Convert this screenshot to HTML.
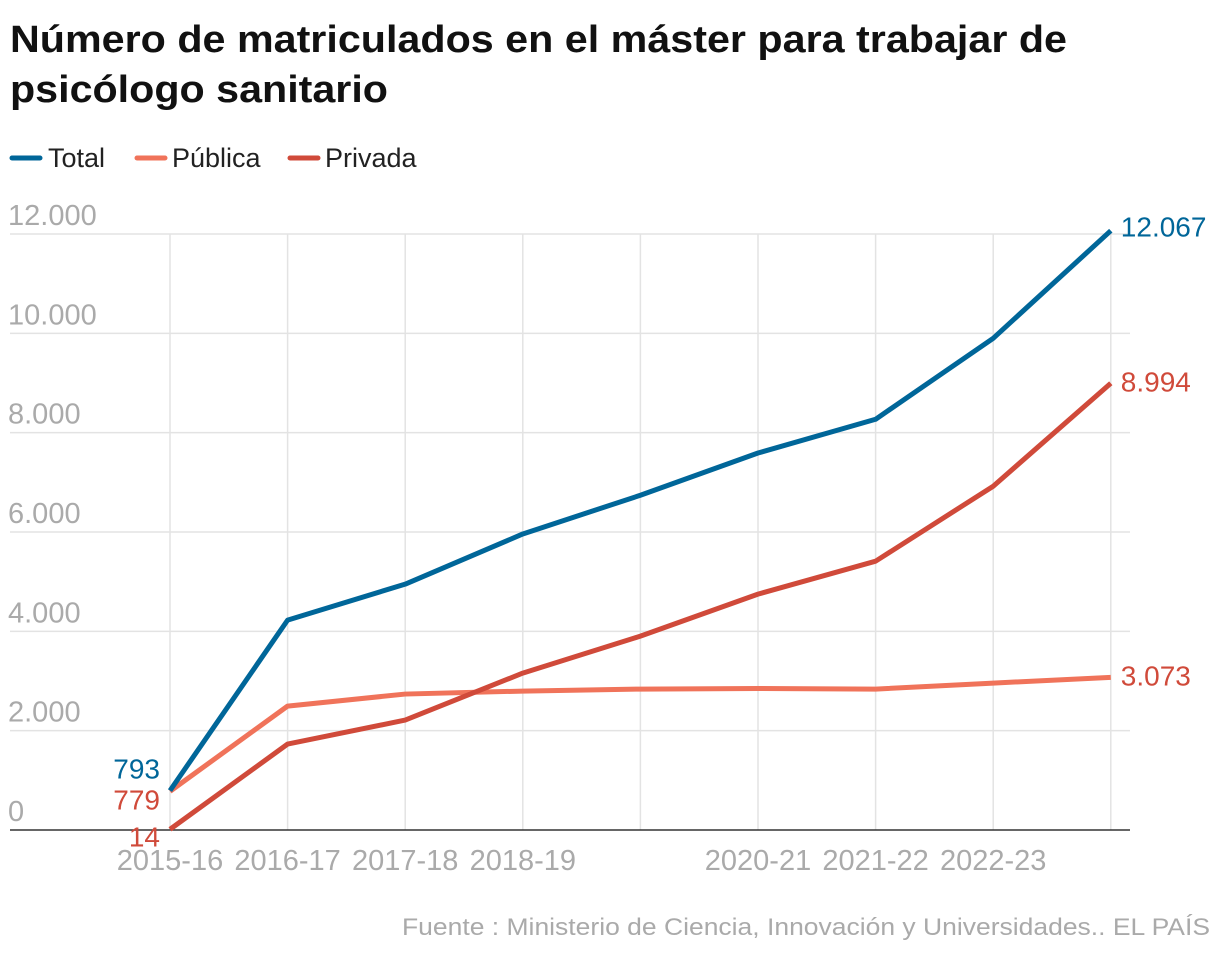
<!DOCTYPE html>
<html><head><meta charset="utf-8"><style>
body{margin:0;background:#fff;width:1220px;height:956px;overflow:hidden;font-family:"Liberation Sans",sans-serif}
</style></head><body>
<svg width="1220" height="956">
<text x="10" y="52" font-size="38" font-weight="bold" fill="#111" textLength="1057" lengthAdjust="spacingAndGlyphs">Número de matriculados en el máster para trabajar de</text>
<text x="10" y="102" font-size="38" font-weight="bold" fill="#111" textLength="378" lengthAdjust="spacingAndGlyphs">psicólogo sanitario</text>
<g>
<line x1="12" y1="158" x2="40" y2="158" stroke="#006699" stroke-width="5" stroke-linecap="round"/>
<text x="48" y="167" font-size="27" fill="#222">Total</text>
<line x1="137" y1="158" x2="165" y2="158" stroke="#f0735a" stroke-width="5" stroke-linecap="round"/>
<text x="172" y="167" font-size="27" fill="#222">Pública</text>
<line x1="290" y1="158" x2="318" y2="158" stroke="#d04a3a" stroke-width="5" stroke-linecap="round"/>
<text x="325" y="167" font-size="27" fill="#222">Privada</text>
</g>
<g id="grid"></g><g id="lines"></g><g id="labels"></g>
<text x="1210" y="935" font-size="24" fill="#aaa" text-anchor="end" textLength="808" lengthAdjust="spacingAndGlyphs">Fuente : Ministerio de Ciencia, Innovación y Universidades.. EL PAÍS</text>
</svg>
<script>
const categories=["2015-16","2016-17","2017-18","2018-19","2019-20","2020-21","2021-22","2022-23","2023-24"];
const shownTicks=["2015-16","2016-17","2017-18","2018-19","2020-21","2021-22","2022-23"];
const total=[793,4226,4950,5960,6740,7590,8270,9900,12067];
const publica=[779,2495,2737,2797,2837,2850,2837,2958,3073];
const privada=[14,1730,2213,3159,3903,4749,5412,6922,8994];
const yTicks=[0,2000,4000,6000,8000,10000,12000];
const yTickLabels=["0","2.000","4.000","6.000","8.000","10.000","12.000"];
const NS="http://www.w3.org/2000/svg";
const x=i=>170+i*117.6, y=v=>830-v*(596/12000);
function mk(t,a,p){const e=document.createElementNS(NS,t);for(const k in a)e.setAttribute(k,a[k]);p.appendChild(e);return e;}
const g=document.getElementById('grid'),L=document.getElementById('lines'),lb=document.getElementById('labels');
yTicks.forEach((v,i)=>{
 if(v>0){const l=mk('line',{x1:10,x2:1130,y1:y(v),y2:y(v),stroke:'#e3e3e3','stroke-width':1.5},g);
 
 }
 const t=mk('text',{x:8,y:y(v)-9,'font-size':29,fill:'#aaa'},g);t.textContent=yTickLabels[i];
 
 
});
categories.forEach((c,i)=>{
 const l=mk('line',{x1:x(i),x2:x(i),y1:y(12000),y2:830,stroke:'#e3e3e3','stroke-width':1.5},g);
 
 
 if(shownTicks.includes(c)){const t=mk('text',{x:x(i),y:870,'font-size':29,fill:'#aaa','text-anchor':'middle'},g);t.textContent=c;
 
 }
});
const ax=mk('line',{x1:10,x2:1130,y1:830,y2:830,stroke:'#333','stroke-width':1.5},g);


[[publica,'#f0735a','line-publica'],[privada,'#d04a3a','line-privada'],[total,'#006699','line-total']].forEach(([d,c,n])=>{
 const p=mk('polyline',{points:d.map((v,i)=>x(i)+','+y(v)).join(' '),fill:'none',stroke:c,'stroke-width':5,'stroke-linejoin':'round'},L);
 
 
});
function lab(txt,xx,yy,c,anchor,n){const t=mk('text',{x:xx,y:yy,'font-size':28,fill:c,'text-anchor':anchor},lb);t.textContent=txt;
 
 }
const last=categories.length-1;
lab(total[last].toLocaleString('de-DE'),x(last)+10,y(total[last])+6,'#006699','start','end-label-total');
lab(privada[last].toLocaleString('de-DE'),x(last)+10,y(privada[last])+8,'#d04a3a','start','end-label-privada');
lab(publica[last].toLocaleString('de-DE'),x(last)+10,y(publica[last])+8,'#d04a3a','start','end-label-publica');
lab(String(total[0]),x(0)-10,y(total[0])-12,'#006699','end','start-label-total');
lab(String(publica[0]),x(0)-10,y(publica[0])+18,'#d04a3a','end','start-label-publica');
lab(String(privada[0]),x(0)-10,y(privada[0])+17,'#d04a3a','end','start-label-privada');
</script>
</body></html>
